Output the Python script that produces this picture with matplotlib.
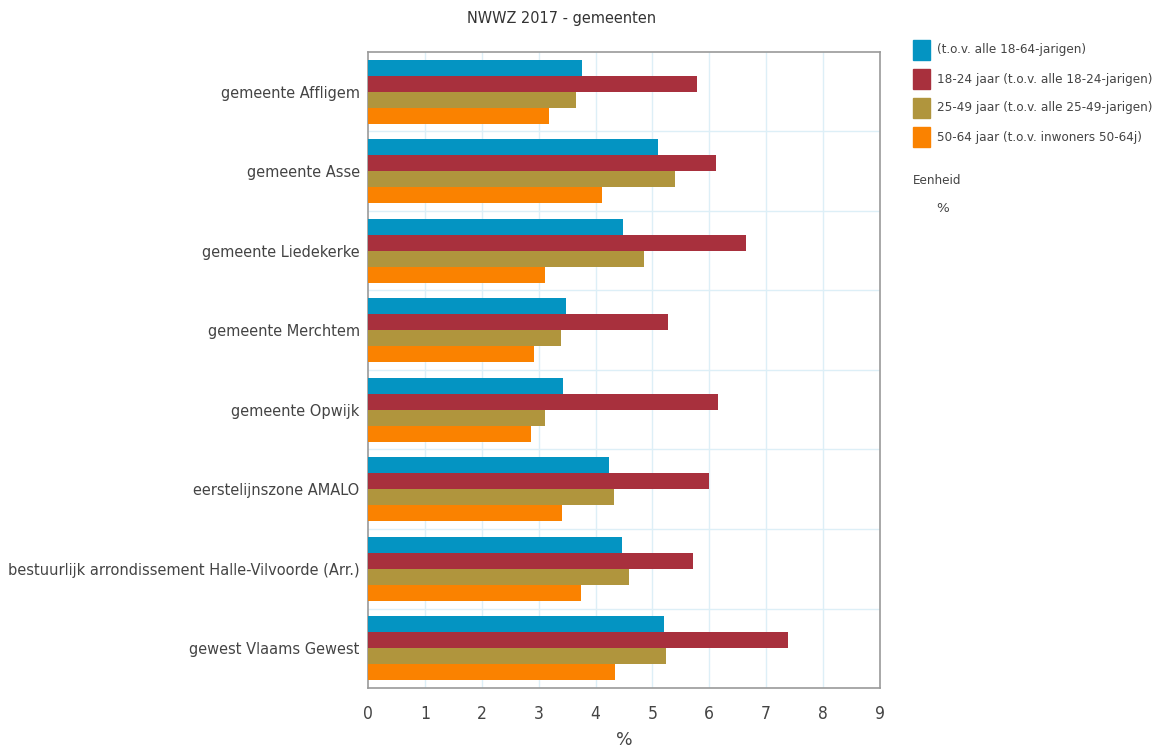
import matplotlib
matplotlib.use("Agg")
import matplotlib.pyplot as plt
from matplotlib.patches import Rectangle
import numpy as np

plt.rcParams['font.family'] = ['DejaVu Sans']

categories = [
    "gemeente Affligem",
    "gemeente Asse",
    "gemeente Liedekerke",
    "gemeente Merchtem",
    "gemeente Opwijk",
    "eerstelijnszone AMALO",
    "bestuurlijk arrondissement Halle-Vilvoorde (Arr.)",
    "gewest Vlaams Gewest",
]

series_names = [
    "(t.o.v. alle 18-64-jarigen)",
    "18-24 jaar (t.o.v. alle 18-24-jarigen)",
    "25-49 jaar (t.o.v. alle 25-49-jarigen)",
    "50-64 jaar (t.o.v. inwoners 50-64j)",
]

total_18_64 = [3.77, 5.09, 4.49, 3.48, 3.43, 4.24, 4.46, 5.21]
age_18_24 = [5.79, 6.11, 6.65, 5.28, 6.16, 6.00, 5.72, 7.38]
age_25_49 = [3.66, 5.39, 4.86, 3.39, 3.12, 4.33, 4.58, 5.23]
age_50_64 = [3.19, 4.12, 3.12, 2.92, 2.87, 3.41, 3.74, 4.35]

colors = ["#0494C2", "#A8303D", "#B0953D", "#FA8200"]
text_col = "#444444"

fig = plt.figure(figsize=(11.61, 7.51), dpi=100)
ax = fig.add_axes([368 / 1161, 1 - 688 / 751, 512 / 1161, 636 / 751])

values = [total_18_64, age_18_24, age_25_49, age_50_64]
n = len(categories)
y = np.arange(n)
h = 0.2
for i, (vals, col) in enumerate(zip(values, colors)):
    ax.barh(y - 0.3 + i * h, vals, height=h, color=col, label=series_names[i], zorder=3)

ax.set_xlim(0, 9)
ax.set_ylim(n - 0.5, -0.5)
ax.set_xticks(range(10))
ax.set_yticks(y)
ax.set_yticklabels(categories)

# light grid: vertical at each unit, horizontal between groups
for xv in range(1, 9):
    ax.axvline(xv, color="#DDEFF7", lw=1, zorder=1)
for yb in np.arange(0.5, n - 0.5, 1):
    ax.axhline(yb, color="#DDEFF7", lw=1, zorder=1)

for s in ax.spines.values():
    s.set_color("#9A9A9A")
    s.set_linewidth(1.2)

ax.tick_params(axis="both", length=0, colors=text_col)
ax.tick_params(axis="y", pad=6, labelsize=11.7)
ax.tick_params(axis="x", pad=12, labelsize=12.5)
for lab in ax.get_yticklabels() + ax.get_xticklabels():
    lab.set_fontstretch("condensed")
    if lab in ax.get_yticklabels():
        lab.set_y(lab.get_position()[1])

ax.set_xlabel("%", fontsize=12.5, color=text_col, labelpad=6)

fig.text(562 / 1161, 1 - 19 / 751, "NWWZ 2017 - gemeenten", ha="center", va="center",
         fontsize=11.6, color="#333333", fontstretch="condensed")

# legend on the right
leg_y = [50, 79, 108, 137]
for name, col, yy in zip(series_names, colors, leg_y):
    fig.patches.append(Rectangle((913 / 1161, 1 - (yy + 10) / 751), 17 / 1161, 20 / 751,
                                 transform=fig.transFigure, color=col))
    fig.text(937 / 1161, 1 - yy / 751, name, ha="left", va="center",
             fontsize=9.6, color=text_col, fontstretch="condensed")
fig.text(913 / 1161, 1 - 180 / 751, "Eenheid", ha="left", va="center",
         fontsize=9.6, color=text_col, fontstretch="condensed")
fig.text(936 / 1161, 1 - 208 / 751, "%", ha="left", va="center",
         fontsize=9.6, color=text_col)

fig.savefig("out.png", dpi=100)
